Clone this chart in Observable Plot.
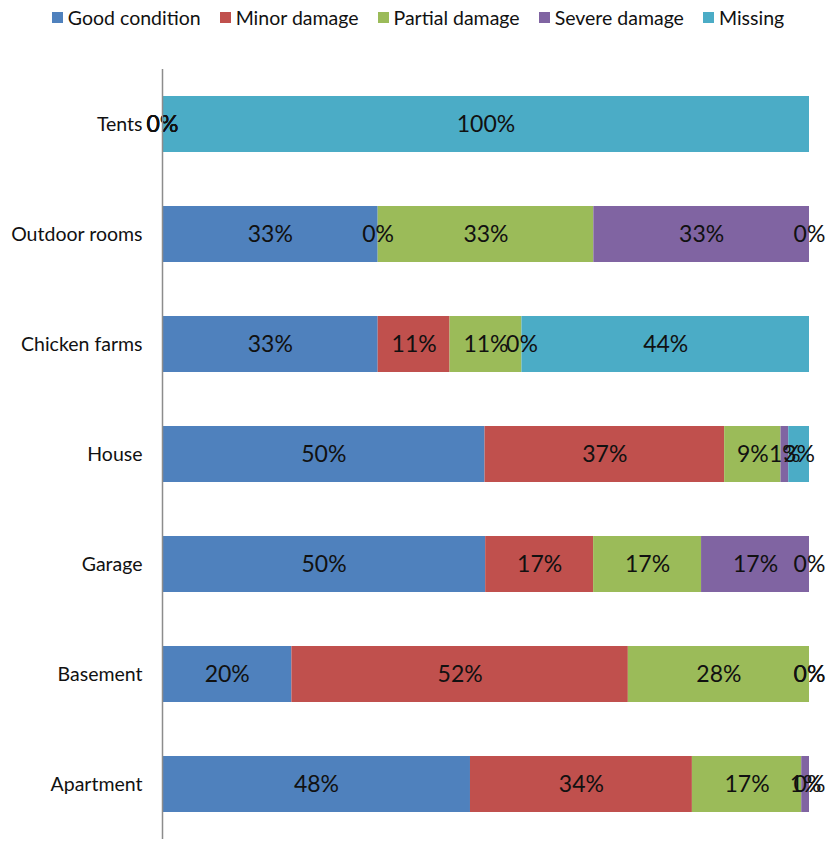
<!DOCTYPE html>
<html>
<head>
<meta charset="utf-8">
<script src="https://cdn.jsdelivr.net/npm/d3@7"></script>
<script src="https://cdn.jsdelivr.net/npm/@observablehq/plot@0.6"></script>
<style>
  body { margin: 0; background: #fff; font-family: Lato, "Open Sans", sans-serif; }
  #legend { height: 40px; display: flex; justify-content: center; align-items: center; gap: 19px; font-size: 19.5px; color: #111; box-sizing: border-box; padding-bottom: 5px; }
  #legend .item { display: flex; align-items: center; }
  #legend .sw { width: 11px; height: 11px; margin-right: 5px; }
</style>
</head>
<body>
<div id="legend"></div>
<div id="chart"></div>
<script>
const categories = ["Tents", "Outdoor rooms", "Chicken farms", "House", "Garage", "Basement", "Apartment"];
const statuses = ["Good condition", "Minor damage", "Partial damage", "Severe damage", "Missing"];
const colors = ["#4F81BD", "#C0504D", "#9BBB59", "#8064A2", "#4BACC6"];
// percentage values per category, in status order
const tents        = [0, 0, 0, 0, 100];
const outdoorRooms = [33.3, 0, 33.3, 33.3, 0];
const chickenFarms = [33.3, 11.1, 11.1, 0, 44.4];
const house        = [49.8, 37, 8.7, 1.2, 3.2];
const garage       = [50, 16.7, 16.7, 16.7, 0];
const basement     = [20, 52, 28, 0, 0];
const apartment    = [47.6, 34.3, 16.9, 1.2, 0];
const seriesByCat = [tents, outdoorRooms, chickenFarms, house, garage, basement, apartment];

const data = [];
categories.forEach((c, i) => statuses.forEach((s, j) => data.push({cat: c, status: s, value: seriesByCat[i][j]})));

const legend = document.getElementById("legend");
statuses.forEach((s, i) => {
  const it = document.createElement("div");
  it.className = "item";
  it.innerHTML = `<span class="sw" style="background:${colors[i]}"></span><span>${s}</span>`;
  legend.appendChild(it);
});

const chart = Plot.plot({
  width: 836,
  height: 803,
  marginLeft: 162,
  marginRight: 27,
  marginTop: 29,
  marginBottom: 4,
  style: {fontFamily: "Lato, 'Open Sans', sans-serif", background: "#fff"},
  x: {domain: [0, 1], axis: null},
  y: {domain: categories, paddingInner: 0.49, paddingOuter: 0.245, label: null},
  color: {domain: statuses, range: colors},
  marks: [
    Plot.barX(data, Plot.stackX({x: "value", y: "cat", fill: "status", offset: "normalize", order: null})),
    Plot.text(data, Plot.stackX({x: "value", y: "cat", z: "status", offset: "normalize", order: null,
      text: d => Math.round(d.value) + "%", fontSize: 23, fill: "#111"})),
    Plot.ruleX([0], {stroke: "#8c8c8c", strokeWidth: 1.5}),
    Plot.axisY({tickSize: 0, tickPadding: 20, fontSize: 19.5, label: null, color: "#111"})
  ]
});
document.getElementById("chart").appendChild(chart);
</script>
</body>
</html>
